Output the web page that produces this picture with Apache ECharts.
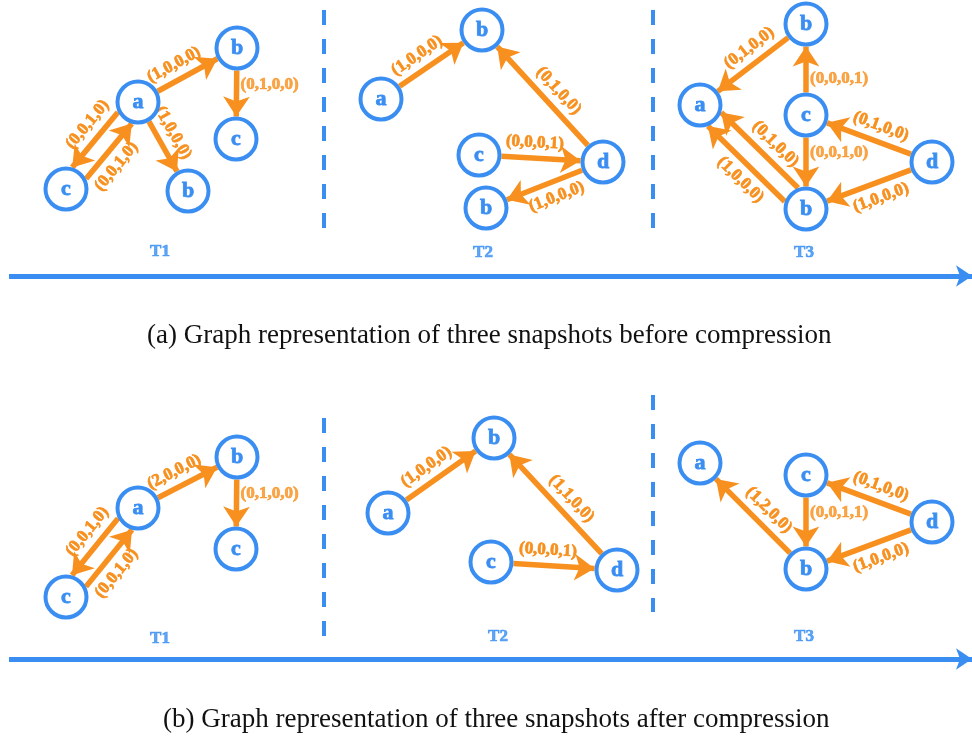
<!DOCTYPE html>
<html><head><meta charset="utf-8">
<script src="https://cdn.jsdelivr.net/npm/echarts@6/dist/echarts.min.js"></script>
<style>html,body{margin:0;padding:0;background:#fff}#main{width:972px;height:736px}</style>
</head><body><div id="main"></div>
<script>
// ---------- DATA ----------
// nodes: [id, label, x, y]  (diagram coordinates)
const topT1Nodes = [['a','a',138,102],['b','b',237,48],['c','c',236,139],['c2','c',66,189],['b2','b',188,191]];
const topT1Edges = [['a','b','(1,0,0,0)','top',0],['b','c','(0,1,0,0)','right',0],['a','c2','(0,0,1,0)','top',9],['c2','a','(0,0,1,0)','bottom',9],['a','b2','(1,0,0,0)','top',0]];
const topT2Nodes = [['a','a',381,99],['b','b',482,30],['c','c',479,155],['d','d',603,162],['b2','b',486,208]];
const topT2Edges = [['a','b','(1,0,0,0)','top',0],['d','b','(0,1,0,0)','top',0],['c','d','(0,0,0,1)','top',0],['d','b2','(1,0,0,0)','bottom',0]];
const topT3Nodes = [['b','b',806,24],['a','a',700,105],['c','c',806,115],['d','d',932,162],['b2','b',806,209]];
const topT3Edges = [['b','a','(0,1,0,0)','top',0],['c','b','(0,0,0,1)','right',0],['c','b2','(0,0,1,0)','right',0],['d','c','(0,1,0,0)','top',0],['d','b2','(1,0,0,0)','bottom',0],['b2','a','(0,1,0,0)','top',9.5],['b2','a','(1,0,0,0)','bottom',-9.5]];

const botT1Nodes = [['a','a',138,508],['b','b',237,457],['c','c',236,549],['c2','c',66,597]];
const botT1Edges = [['a','b','(2,0,0,0)','top',0],['b','c','(0,1,0,0)','right',0],['a','c2','(0,0,1,0)','top',9],['c2','a','(0,0,1,0)','bottom',9]];
const botT2Nodes = [['a','a',388,513],['b','b',494,438],['c','c',491,562],['d','d',617,570]];
const botT2Edges = [['a','b','(1,0,0,0)','top',0],['d','b','(1,1,0,0)','top',0],['c','d','(0,0,0,1)','top',0]];
const botT3Nodes = [['a','a',700,463],['c','c',806,475],['d','d',932,522],['b','b',806,569]];
const botT3Edges = [['b','a','(1,2,0,0)','top',0],['c','b','(0,0,1,1)','right',0],['d','c','(0,1,0,0)','top',0],['d','b','(1,0,0,0)','bottom',0]];

const timeLabels = [['T1',160,252],['T2',483,253],['T3',804,253],['T1',160,639],['T2',498,637],['T3',804,637]];
const separators = [[324,10,229],[653,10,229],[324,418,637],[653,395,612]];
const timeAxes = [[9,972,276],[9,972,659]];
const captions = ['(a) Graph representation of three snapshots before compression','(b) Graph representation of three snapshots after compression'];

// ---------- BUILD ----------
const BLUE = '#3a8ef2', ORANGE = '#f7901e';
const SERIF = 'Liberation Serif';
const R = 22.5;        // outer node radius
const TAIL = 7;        // label shift toward the tail of an edge
const panels = [[topT1Nodes,topT1Edges],[topT2Nodes,topT2Edges],[topT3Nodes,topT3Edges],
                [botT1Nodes,botT1Edges],[botT2Nodes,botT2Edges],[botT3Nodes,botT3Edges]];

const nodeData = [], edgeData = [], edgeLabelData = [], sideLabels = [];
panels.forEach(([nodes, edges]) => {
  const pos = {};
  nodes.forEach(n => { pos[n[0]] = [n[2], n[3]]; nodeData.push({name: n[1], value: [n[2], n[3]]}); });
  edges.forEach(e => {
    const p = pos[e[0]], q = pos[e[1]], off = e[4];
    const dx = q[0]-p[0], dy = q[1]-p[1], L = Math.hypot(dx, dy);
    const ux = dx/L, uy = dy/L, nx = -uy, ny = ux;
    const s = Math.sqrt(R*R - off*off);
    const a = [p[0]+nx*off+ux*s, p[1]+ny*off+uy*s];
    const b = [q[0]+nx*off-ux*s, q[1]+ny*off-uy*s];
    edgeData.push({coords: [a, b]});
    const side = e[3];
    if (side === 'right') {
      sideLabels.push({name: e[2], value: [(a[0]+b[0])/2 + 4 - ux*TAIL*1.3, (a[1]+b[1])/2 - uy*TAIL*1.3]});
    } else {
      const b2 = [b[0]-ux*2*TAIL, b[1]-uy*2*TAIL];
      edgeLabelData.push({coords: [a, b2], name: e[2],
        label: {position: side === 'top' ? 'insideMiddleTop' : 'insideMiddleBottom'}});
    }
  });
});

const labelFont = {fontFamily: SERIF, fontWeight: 'bold', fontSize: 17, color: ORANGE,
                   textBorderColor: ORANGE, textBorderWidth: 0.7};

const chart = echarts.init(document.getElementById('main'), null, {renderer: 'canvas'});
chart.setOption({
  animation: false,
  backgroundColor: '#fff',
  title: captions.map((t, i) => ({
    text: t, left: i === 0 ? 147 : 163, top: i === 0 ? 322 : 706, padding: 0,
    textStyle: {fontFamily: SERIF, fontWeight: 'normal', fontSize: 27, color: '#111'}
  })),
  grid: {left: 0, right: 0, top: 0, bottom: 0},
  xAxis: {type: 'value', min: 0, max: 972, show: false},
  yAxis: {type: 'value', min: 0, max: 736, inverse: true, show: false},
  series: [
    { // separators
      type: 'lines', coordinateSystem: 'cartesian2d', silent: true, z: 1,
      data: separators.map(s => ({coords: [[s[0], s[1]], [s[0], s[2]]]})),
      lineStyle: {color: BLUE, width: 4, type: [15, 14], opacity: 1}
    },
    { // time axes
      type: 'lines', coordinateSystem: 'cartesian2d', silent: true, z: 1,
      symbol: ['none', 'arrow'], symbolSize: [17, 16],
      data: timeAxes.map(t => ({coords: [[t[0], t[2]], [t[1], t[2]]]})),
      lineStyle: {color: BLUE, width: 5, opacity: 1}
    },
    { // edges
      type: 'lines', coordinateSystem: 'cartesian2d', silent: true, z: 2,
      symbol: ['none', 'arrow'], symbolSize: [15, 20],
      data: edgeData,
      lineStyle: {color: ORANGE, width: 5.5, opacity: 1}
    },
    { // edge labels (transparent carrier lines)
      type: 'lines', coordinateSystem: 'cartesian2d', silent: true, z: 3,
      symbol: ['none', 'none'],
      data: edgeLabelData,
      lineStyle: {color: 'rgba(0,0,0,0)', width: 1, opacity: 1},
      label: Object.assign({show: true, formatter: '{b}', distance: 7}, labelFont)
    },
    { // labels beside vertical edges
      type: 'scatter', silent: true, symbolSize: 0, z: 3,
      data: sideLabels,
      label: Object.assign({show: true, position: 'right', distance: 0, formatter: '{b}'}, labelFont)
    },
    { // nodes
      type: 'scatter', silent: true, symbol: 'circle', symbolSize: 41, z: 4,
      data: nodeData,
      itemStyle: {color: '#fff', borderColor: BLUE, borderWidth: 4, opacity: 1},
      label: {show: true, position: 'inside', formatter: '{b}', fontFamily: SERIF, fontWeight: 'bold', fontSize: 22,
              color: BLUE, textBorderColor: BLUE, textBorderWidth: 0.8}
    },
    { // time labels
      type: 'scatter', silent: true, symbolSize: 0, z: 3,
      data: timeLabels.map(t => ({name: t[0], value: [t[1], t[2]]})),
      label: {show: true, position: 'inside', formatter: '{b}', fontFamily: SERIF, fontWeight: 'bold', fontSize: 17,
              color: BLUE, textBorderColor: BLUE, textBorderWidth: 0.7}
    }
  ]
});
</script></body></html>
